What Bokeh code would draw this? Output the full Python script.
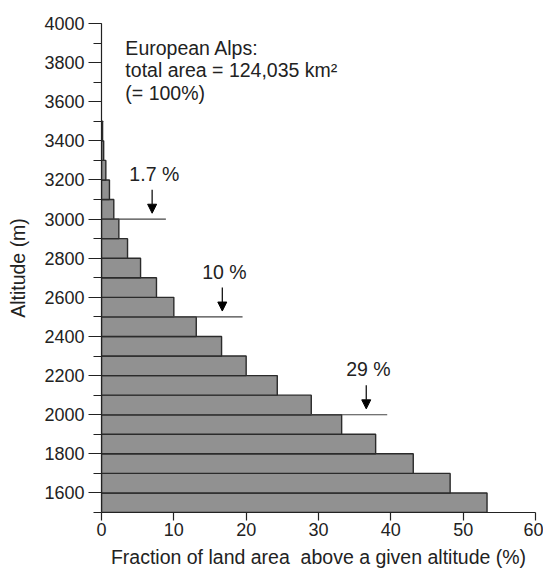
from bokeh.plotting import figure
from bokeh.models import (SingleIntervalTicker, Label, Arrow, NormalHead,
                          Range1d, ColumnDataSource)
from bokeh.core.properties import value
from bokeh.embed import file_html
from bokeh.resources import INLINE

# Hypsometry of the European Alps: share of land area above each altitude
band_bottom_m = [1500, 1600, 1700, 1800, 1900, 2000, 2100, 2200, 2300, 2400,
                 2500, 2600, 2700, 2800, 2900, 3000, 3100, 3200, 3300, 3400]
fraction_above_pct = [53.3, 48.2, 43.1, 37.9, 33.2, 29.0, 24.3, 20.0, 16.6, 13.1,
                      10.0, 7.6, 5.4, 3.6, 2.4, 1.7, 1.1, 0.6, 0.3, 0.15]
band_height_m = 100

# Highlighted reference altitudes
marker_levels_m = [3000, 2500, 2000]
marker_labels = ["1.7 %", "10 %", "29 %"]
marker_line_end_pct = [8.9, 19.5, 39.5]
marker_arrow_x_pct = [7.0, 16.7, 36.6]

info_lines = ["European Alps:", "total area = 124,035 km²", "(= 100%)"]

FONT = "Liberation Sans"
INK = "#222222"

p = figure(width=543, height=570, output_backend="svg", toolbar_location=None,
           x_range=Range1d(0, 60), y_range=Range1d(1500, 4000),
           min_border_left=101, min_border_right=8, min_border_top=23,
           min_border_bottom=58, background_fill_color="white",
           border_fill_color="white")
p.outline_line_color = None
p.xgrid.visible = False
p.ygrid.visible = False

bars = ColumnDataSource(dict(
    y=[b + band_height_m / 2 for b in band_bottom_m],
    right=fraction_above_pct,
))
p.hbar(y="y", height=band_height_m, left=0, right="right", source=bars,
       fill_color="#919191", line_color="#2b2b2b", line_width=1.4)

# Reference lines, arrows and percentage labels
p.segment(x0=[0] * len(marker_levels_m), y0=marker_levels_m,
          x1=marker_line_end_pct, y1=marker_levels_m,
          line_color="#444444", line_width=1.1)
for lvl, ax in zip(marker_levels_m, marker_arrow_x_pct):
    p.add_layout(Arrow(end=NormalHead(size=9, fill_color="black", line_color="black"),
                       x_start=ax, y_start=lvl + 150, x_end=ax, y_end=lvl + 30,
                       line_color="black", line_width=1.2))
p.text(x=[x + 0.3 for x in marker_arrow_x_pct], y=[l + 175 for l in marker_levels_m],
       text=marker_labels, text_font=value(FONT), text_font_size="19.5px",
       text_align="center", text_baseline="bottom", text_color=INK)

# Region summary text
for i, line in enumerate(info_lines):
    p.add_layout(Label(x=3.3, y=3875 - i * 114, text=line, text_font=FONT,
                       text_font_size="19.5px", text_color=INK,
                       text_baseline="alphabetic", text_align="left"))

# Axes
p.yaxis.ticker = SingleIntervalTicker(interval=200, num_minor_ticks=2)
p.xaxis.ticker = SingleIntervalTicker(interval=10, num_minor_ticks=0)
for ax in (p.xaxis[0], p.yaxis[0]):
    ax.axis_line_color = INK
    ax.axis_line_width = 1.2
    ax.major_tick_line_color = INK
    ax.major_tick_line_width = 1.2
    ax.minor_tick_line_color = INK
    ax.minor_tick_line_width = 1.2
    ax.major_tick_in = 0
    ax.minor_tick_in = 0
    ax.major_label_text_font = FONT
    ax.major_label_text_font_size = "18px"
    ax.major_label_text_color = INK
    ax.axis_label_text_font = FONT
    ax.axis_label_text_font_size = "19.5px"
    ax.axis_label_text_font_style = "normal"
    ax.axis_label_text_color = INK

p.yaxis.major_tick_out = 13
p.yaxis.minor_tick_out = 8
p.yaxis.major_label_standoff = 4
p.yaxis.axis_label = "Altitude (m)"
p.yaxis.axis_label_standoff = 12

p.xaxis.major_tick_out = 8
p.xaxis.minor_tick_out = 0
p.xaxis.major_label_standoff = 2
p.xaxis.axis_label = "Fraction of land area\u00a0 above a given altitude (%)"
p.xaxis.axis_label_standoff = 7

open("out.html", "w").write(file_html(p, INLINE))
